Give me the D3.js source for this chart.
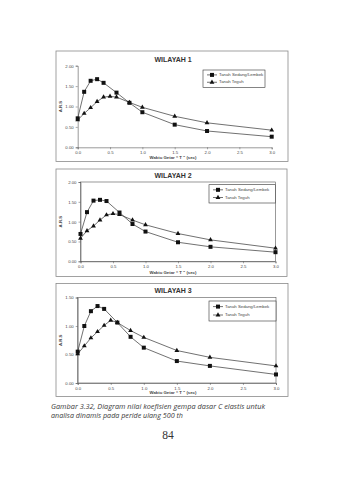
<!DOCTYPE html>
<html><head><meta charset="utf-8">
<script src="https://cdn.jsdelivr.net/npm/d3@7"></script>
<style>body{margin:0;background:#fff}svg{display:block}</style>
</head><body>
<svg id="c" width="338" height="480"></svg>
<script>
const T_sedang = [0,0.1,0.2,0.3,0.4,0.6,0.8,1.0,1.5,2.0,3.0];
const T_teguh  = [0,0.1,0.2,0.3,0.4,0.5,0.6,0.8,1.0,1.5,2.0,3.0];
const w1_sedang = [0.71,1.36,1.63,1.67,1.58,1.34,1.09,0.86,0.555,0.40,0.26];
const w1_teguh  = [0.67,0.83,0.97,1.12,1.23,1.25,1.23,1.10,0.98,0.76,0.60,0.42];
const w2_sedang = [0.69,1.24,1.53,1.55,1.52,1.23,0.94,0.75,0.48,0.365,0.23];
const w2_teguh  = [0.58,0.77,0.89,1.04,1.17,1.20,1.18,1.04,0.92,0.70,0.54,0.33];
const w3_sedang = [0.55,1.00,1.26,1.35,1.30,1.06,0.81,0.62,0.385,0.30,0.15];
const w3_teguh  = [0.51,0.65,0.79,0.90,1.01,1.10,1.06,0.92,0.80,0.57,0.45,0.30];
const titles = ["WILAYAH 1","WILAYAH 2","WILAYAH 3"];
const seriesNames = ["Tanah Sedang/Lembek","Tanah Teguh"];
const xTicks = [0,0.5,1.0,1.5,2.0,2.5,3.0];
const yTicks12 = [0,0.5,1.0,1.5,2.0];
const yTicks3 = [0,0.5,1.0,1.5];
const xLabel = "Waktu Getar \u201C T \u201D (sec)";
const yLabel = "A.R.S";
const caption1 = "Gambar 3.32,  Diagram nilai koefisien gempa dasar C elastis untuk";
const caption2 = "analisa dinamis pada peride ulang 500 th";
const pageNo = "84";

const svg = d3.select("#c");
const font = "Liberation Sans, Arial, sans-serif";

const layouts = [
  {frame:[56,51,288,161.5], plot:[77.7,271.7,65.7,147.3], ymax:2.0, yt:yTicks12, border:false, titleY:60, xlY:157.5, leg:[203,70,265,87.5],
   s:w1_sedang, t:w1_teguh},
  {frame:[56,169,287,276.5], plot:[80.5,275.5,182,261.3], ymax:2.0, yt:yTicks12, border:true, titleY:176, xlY:272.5, leg:[209,184.7,275.5,203],
   s:w2_sedang, t:w2_teguh},
  {frame:[56,283.5,288,396.5], plot:[77.7,276,297.5,383], ymax:1.5, yt:yTicks3, border:true, titleY:291, xlY:393, leg:[209,301,276,321],
   s:w3_sedang, t:w3_teguh}
];

layouts.forEach((L,i)=>{
  const g = svg.append("g");
  const [fx0,fy0,fx1,fy1] = L.frame;
  g.append("rect").attr("x",fx0).attr("y",fy0).attr("width",fx1-fx0).attr("height",fy1-fy0)
    .attr("fill","#fff").attr("stroke","#8a8a8a").attr("stroke-width",0.8);
  const [pl,pr,pt,pb] = L.plot;
  const x = d3.scaleLinear().domain([0,3]).range([pl,pr]);
  const y = d3.scaleLinear().domain([0,L.ymax]).range([pb,pt]);
  if (L.border) {
    g.append("rect").attr("x",pl).attr("y",pt).attr("width",pr-pl).attr("height",pb-pt)
      .attr("fill","none").attr("stroke","#555").attr("stroke-width",0.6);
  }
  const xa = g.append("g").attr("transform",`translate(0,${pb})`)
    .call(d3.axisBottom(x).tickValues(xTicks).tickFormat(d3.format(".1f")).tickSize(2).tickPadding(1.5));
  const ya = g.append("g").attr("transform",`translate(${pl},0)`)
    .call(d3.axisLeft(y).tickValues(L.yt).tickFormat(d3.format(".2f")).tickSize(2).tickPadding(2));
  [xa,ya].forEach(a=>{
    a.select(".domain").attr("stroke","#555").attr("stroke-width",0.6);
    a.selectAll(".tick line").attr("stroke","#555").attr("stroke-width",0.5);
    a.selectAll(".tick text").attr("font-family",font).attr("font-size",4.3).attr("fill","#444");
  });
  g.append("text").attr("x",173).attr("y",L.titleY).attr("text-anchor","middle").attr("dominant-baseline","middle")
    .attr("font-family",font).attr("font-weight","bold").attr("font-size",7).attr("fill","#333").text(titles[i]);
  g.append("text").attr("x",173).attr("y",L.xlY).attr("text-anchor","middle").attr("dominant-baseline","middle")
    .attr("font-family",font).attr("font-weight","bold").attr("font-size",4.3).attr("fill","#444").text(xLabel);
  g.append("text").attr("transform",`translate(${fx0+4.5},${(pt+pb)/2}) rotate(-90)`).attr("text-anchor","middle")
    .attr("dominant-baseline","middle").attr("font-family",font).attr("font-weight","bold").attr("font-size",4.3).attr("fill","#444").text(yLabel);

  const line = d3.line().x(d=>x(d[0])).y(d=>y(d[1]));
  const sd = T_sedang.map((t,k)=>[t,L.s[k]]);
  const td = T_teguh.map((t,k)=>[t,L.t[k]]);
  g.append("path").attr("d",line(td)).attr("fill","none").attr("stroke","#333").attr("stroke-width",0.7);
  g.append("path").attr("d",line(sd)).attr("fill","none").attr("stroke","#333").attr("stroke-width",0.7);
  const sq = d3.symbol().type(d3.symbolSquare).size(16);
  const tr = d3.symbol().type(d3.symbolTriangle).size(10);
  g.selectAll(null).data(td).join("path").attr("d",tr).attr("transform",d=>`translate(${x(d[0])},${y(d[1])})`).attr("fill","#111");
  g.selectAll(null).data(sd).join("path").attr("d",sq).attr("transform",d=>`translate(${x(d[0])},${y(d[1])})`).attr("fill","#111");

  const [lx0,ly0,lx1,ly1] = L.leg;
  g.append("rect").attr("x",lx0).attr("y",ly0).attr("width",lx1-lx0).attr("height",ly1-ly0)
    .attr("fill","#fff").attr("stroke","#333").attr("stroke-width",0.6);
  const rows = [ly0+(ly1-ly0)*0.28, ly0+(ly1-ly0)*0.70];
  rows.forEach((ry,k)=>{
    g.append("line").attr("x1",lx0+4).attr("x2",lx0+14).attr("y1",ry).attr("y2",ry).attr("stroke","#333").attr("stroke-width",0.7);
    g.append("path").attr("d",k===0?sq:tr).attr("transform",`translate(${lx0+9},${ry})`).attr("fill","#111");
    g.append("text").attr("x",lx0+16).attr("y",ry).attr("dominant-baseline","middle").attr("font-family",font)
      .attr("font-size",4.3).attr("fill","#444").text(seriesNames[k]);
  });
});

svg.append("text").attr("x",51).attr("y",408.5).attr("font-family","Open Sans, sans-serif").attr("font-style","italic")
  .attr("font-size",7).attr("fill","#3a3a3a").attr("textLength",214).attr("lengthAdjust","spacingAndGlyphs").text(caption1);
svg.append("text").attr("x",51).attr("y",418).attr("font-family","Open Sans, sans-serif").attr("font-style","italic")
  .attr("font-size",7).attr("fill","#3a3a3a").attr("textLength",132).attr("lengthAdjust","spacingAndGlyphs").text(caption2);
svg.append("text").attr("x",168).attr("y",439).attr("text-anchor","middle").attr("font-family","Liberation Serif, serif")
  .attr("font-size",11.5).attr("fill","#333").text(pageNo);
</script>
</body></html>
